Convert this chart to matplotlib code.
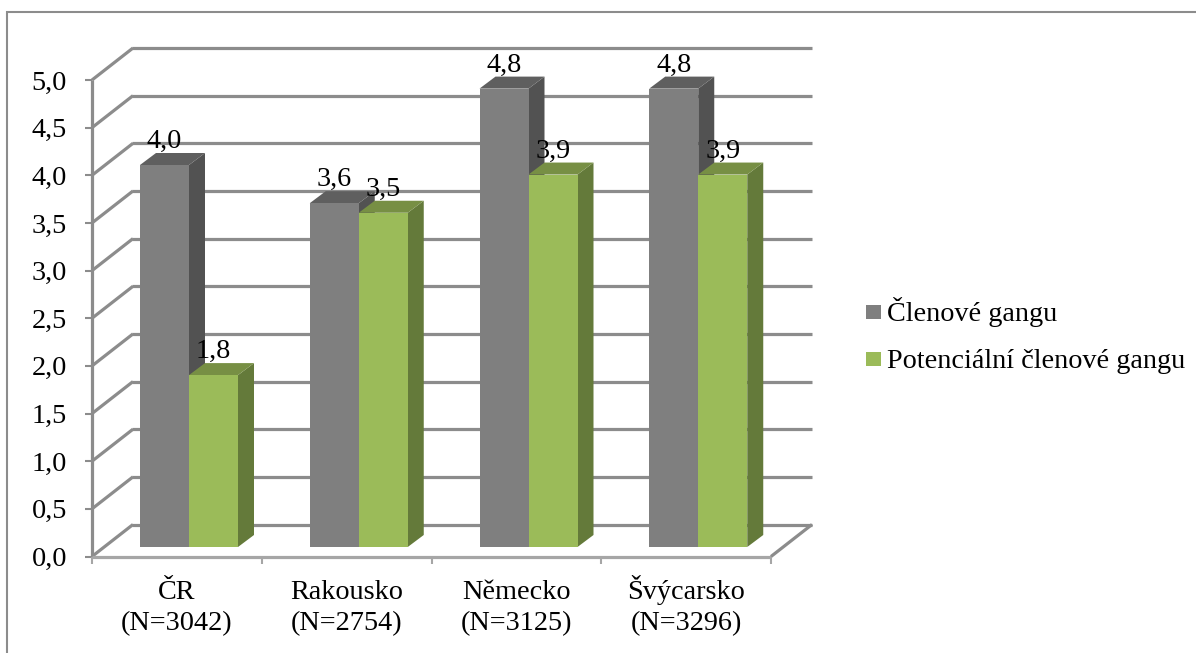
import matplotlib
matplotlib.use('Agg')
import matplotlib.pyplot as plt

categories = ['ČR\n(N=3042)', 'Rakousko\n(N=2754)', 'Německo\n(N=3125)', 'Švýcarsko\n(N=3296)']
clenove = [4.0, 3.6, 4.8, 4.8]
potencialni = [1.8, 3.5, 3.9, 3.9]
yticks = [0.0, 0.5, 1.0, 1.5, 2.0, 2.5, 3.0, 3.5, 4.0, 4.5, 5.0]

W, H = 1196, 653
plt.rcParams['font.family'] = ['Liberation Serif', 'DejaVu Serif']
FS = 20.3

GRID = '#8c8c8c'
GRAY = ('#7f7f7f', '#5f5f5f', '#525252')
GREEN = ('#9bbb59', '#778f44', '#647a3a')

fig = plt.figure(figsize=(W / 100, H / 100), dpi=100)
# front plane of the 3D box, x = category number, y = value
ax = fig.add_axes([92 / W, 1 - 556.5 / H, 679 / W, 476.5 / H])
ax.set_xlim(0, 4)
ax.set_ylim(0, 5)
ax.axis('off')

px = 4 / 679       # one pixel in x data units
py = 5 / 476.5     # one pixel in y data units
depth_x = 41 * px  # wall depth
depth_y = 32 * py


def line(xs, ys, lw=2.3, color=GRID, z=1):
    ax.plot(xs, ys, color=color, lw=lw, clip_on=False, zorder=z, solid_capstyle='butt')


# grid on the back wall and side wall
for v in yticks:
    line([0, depth_x], [v, v + depth_y])
    line([depth_x - 1 * px, 4 + depth_x], [v + depth_y, v + depth_y])
    line([-7 * px, 0], [v, v], lw=1.5)

# floor and axes
line([0, 0], [-0.5 * py, 5])
line([0, 4], [0, 0], color='#a6a6a6')
line([4, 4 + depth_x], [0, depth_y])
for i in range(5):
    line([i, i], [0, -7 * py], lw=1.5, color='#a6a6a6')


def bar3d(x0, width, value, colors):
    base = 9.5 * py
    dx, dy = 16 * px, 12 * py
    top = base + value * (382 / 4) * py
    x1 = x0 + width
    ax.fill([x1, x1 + dx, x1 + dx, x1], [base, base + dy, top + dy, top], color=colors[2], lw=0, zorder=3, clip_on=False)
    ax.fill([x0, x0 + dx, x1 + dx, x1], [top, top + dy, top + dy, top], color=colors[1], lw=0, zorder=3, clip_on=False)
    ax.fill([x0, x1, x1, x0], [base, base, top, top], color=colors[0], lw=0, zorder=4, clip_on=False)
    return top


bw = 49 * px
for i, name in enumerate(categories):
    left = i + 48 * px
    t1 = bar3d(left, bw, clenove[i], GRAY)
    t2 = bar3d(left + bw, bw, potencialni[i], GREEN)
    ax.text(left + bw / 2, t1 + 17 * py, f'{clenove[i]:.1f}'.replace('.', ','), ha='center', va='baseline', fontsize=FS, zorder=6)
    ax.text(left + bw * 1.5, t2 + 17 * py, f'{potencialni[i]:.1f}'.replace('.', ','), ha='center', va='baseline', fontsize=FS, zorder=6)
    land, n = name.split('\n')
    ax.text(i + 0.5, -42.5 * py, land, ha='center', va='baseline', fontsize=FS, clip_on=False)
    ax.text(i + 0.5, -73.5 * py, n, ha='center', va='baseline', fontsize=FS, clip_on=False)

for v in yticks:
    ax.text(-25 * px, v - 9.5 * py, f'{v:.1f}'.replace('.', ','), ha='right', va='baseline', fontsize=FS)

# legend
leg_y = [312, 359]
for y, name, c in zip(leg_y, ['Členové gangu', 'Potenciální členové gangu'], [GRAY[0], GREEN[0]]):
    fig.patches.append(plt.Rectangle((866 / W, 1 - (y + 7) / H), 15 / W, 14 / H, transform=fig.transFigure, color=c, lw=0))
    fig.text(887 / W, 1 - (y + 9) / H, name, ha='left', va='baseline', fontsize=FS)

# chart border, right and bottom edges fall outside the picture
fig.patches.append(plt.Rectangle((7 / W, -0.1), 1.1, 1.1 - 12 / H, transform=fig.transFigure, fill=False, edgecolor='#8c8c8c', lw=1.5))

fig.savefig('out.png', dpi=100)
